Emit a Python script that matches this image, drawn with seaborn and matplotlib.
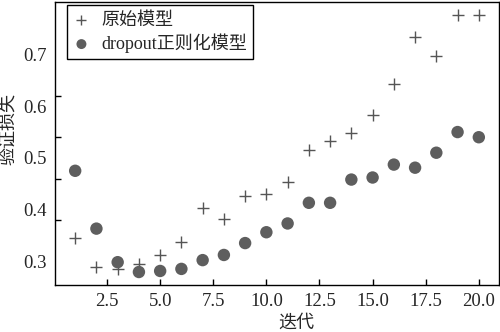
import numpy as np
import pandas as pd
import matplotlib
matplotlib.use("Agg")
import matplotlib.pyplot as plt
import seaborn as sns

# Validation loss per epoch for the two models
epochs = list(range(1, 21))
loss_original = [0.344, 0.288, 0.285, 0.294, 0.312, 0.337, 0.402, 0.381, 0.427, 0.431,
                 0.454, 0.515, 0.533, 0.548, 0.583, 0.644, 0.735, 0.698, 0.777, 0.777]
loss_dropout = [0.475, 0.363, 0.298, 0.279, 0.281, 0.285, 0.302, 0.312, 0.335, 0.356,
                0.373, 0.413, 0.413, 0.458, 0.462, 0.487, 0.481, 0.510, 0.550, 0.540]
series_names = ["原始模型", "dropout正则化模型"]
x_tick_labels = ["2.5", "5.0", "7.5", "10.0", "12.5", "15.0", "17.5", "20.0"]
y_tick_labels = ["0.3", "0.4", "0.5", "0.6", "0.7"]

sns.set_style("ticks")
plt.rcParams["font.family"] = ["Liberation Serif", "Noto Sans CJK SC"]
plt.rcParams["axes.unicode_minus"] = False

df = pd.DataFrame({
    "epoch": epochs * 2,
    "loss": loss_original + loss_dropout,
    "model": [series_names[0]] * len(epochs) + [series_names[1]] * len(epochs),
})

fig = plt.figure(figsize=(5.0, 3.32), dpi=100)
ax = fig.add_axes([0.11, 0.142, 0.888, 0.852])

sns.scatterplot(data=df[df["model"] == series_names[0]], x="epoch", y="loss",
                marker="+", s=70, color="#555555", linewidth=1.0,
                label=series_names[0], ax=ax)
sns.scatterplot(data=df[df["model"] == series_names[1]], x="epoch", y="loss",
                marker="o", s=80, color="#5e5e5e", edgecolor="none",
                label=series_names[1], ax=ax)

ax.set_xlabel("迭代", fontsize=13)
ax.set_ylabel("验证损失", fontsize=13)
ax.xaxis.set_label_coords(0.543, -0.105)
ax.yaxis.set_label_coords(-0.085, 0.55)

ax.set_xticks([float(t) for t in x_tick_labels])
ax.set_xticklabels(x_tick_labels)
ax.set_yticks([float(t) for t in y_tick_labels])
ax.set_yticklabels(y_tick_labels)
ax.set_yticks(np.linspace(0.3, 0.7, 6), minor=True)
ax.tick_params(axis="y", which="major", length=0, pad=6, labelsize=13.5)
ax.tick_params(axis="y", which="minor", direction="in", length=4, width=1, color="black")
ax.tick_params(axis="x", which="major", direction="in", length=4, width=1,
               color="black", pad=6, labelsize=13.5)

for sp in ax.spines.values():
    sp.set_visible(True)
    sp.set_color("black")
    sp.set_linewidth(1.0)

leg = ax.legend(loc="upper left", bbox_to_anchor=(0.027, 0.988), borderaxespad=0,
                fontsize=13, frameon=True, fancybox=False, edgecolor="black",
                framealpha=1, handlelength=0.9, handletextpad=0.65,
                borderpad=0.35, labelspacing=0.25, markerscale=0.8)
leg.get_frame().set_linewidth(1.0)

fig.savefig("out.png", dpi=100)
